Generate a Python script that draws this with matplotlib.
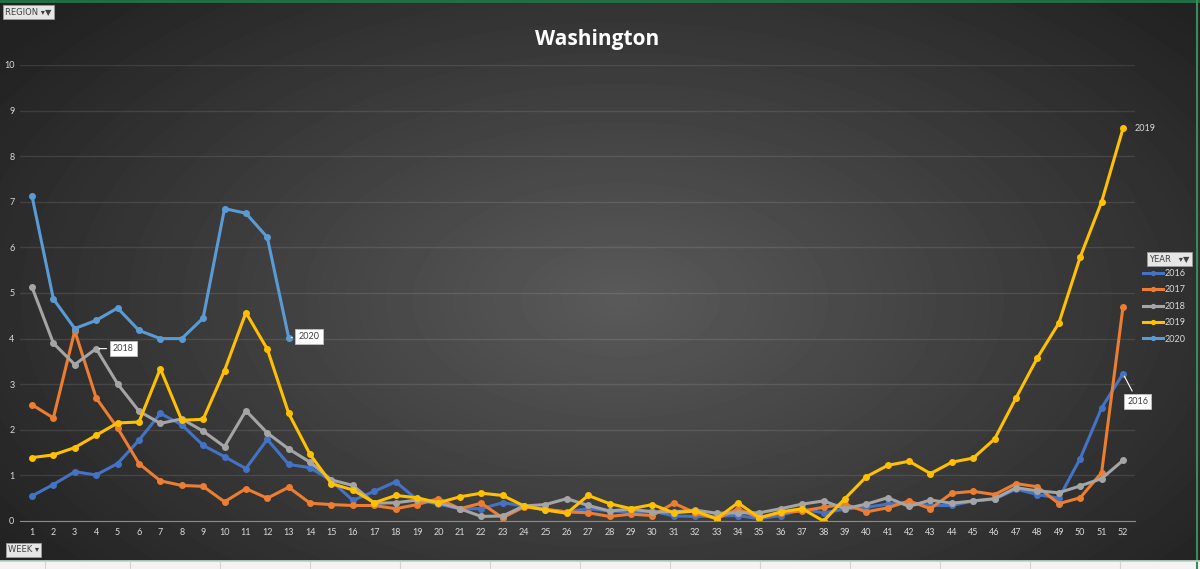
import numpy as np
import matplotlib
matplotlib.use("Agg")
import matplotlib.pyplot as plt

plt.rcParams['font.family'] = ['Lato', 'DejaVu Sans']

weeks = list(range(1, 53))
weeks_2020 = list(range(1, 14))

y2016 = [0.55, 0.80, 1.08, 1.01, 1.26, 1.77, 2.36, 2.11, 1.66, 1.41,
         1.15, 1.79, 1.24, 1.17, 0.88, 0.45, 0.65, 0.86, 0.47, 0.37,
         0.27, 0.27, 0.40, 0.33, 0.24, 0.20, 0.27, 0.22, 0.20, 0.22,
         0.11, 0.10, 0.11, 0.12, 0.05, 0.12, 0.26, 0.18, 0.26, 0.30,
         0.37, 0.40, 0.34, 0.34, 0.44, 0.48, 0.70, 0.58, 0.50, 1.37,
         2.48, 3.23]
y2017 = [2.55, 2.26, 4.17, 2.70, 2.04, 1.26, 0.88, 0.78, 0.76, 0.42,
         0.71, 0.50, 0.74, 0.39, 0.36, 0.34, 0.34, 0.27, 0.36, 0.49,
         0.27, 0.39, 0.07, 0.31, 0.26, 0.20, 0.18, 0.10, 0.15, 0.12,
         0.39, 0.18, 0.05, 0.26, 0.07, 0.18, 0.22, 0.30, 0.37, 0.20,
         0.29, 0.44, 0.27, 0.61, 0.65, 0.58, 0.82, 0.75, 0.38, 0.51,
         1.06, 4.70]
y2018 = [5.13, 3.90, 3.43, 3.78, 3.01, 2.41, 2.14, 2.24, 1.97, 1.63,
         2.42, 1.93, 1.58, 1.29, 0.90, 0.78, 0.39, 0.40, 0.46, 0.40,
         0.27, 0.10, 0.11, 0.33, 0.36, 0.49, 0.34, 0.22, 0.26, 0.20,
         0.20, 0.24, 0.17, 0.18, 0.18, 0.27, 0.37, 0.44, 0.27, 0.37,
         0.51, 0.32, 0.46, 0.39, 0.44, 0.49, 0.73, 0.66, 0.62, 0.77,
         0.93, 1.33]
y2019 = [1.39, 1.45, 1.61, 1.88, 2.15, 2.17, 3.34, 2.21, 2.23, 3.30,
         4.57, 3.77, 2.36, 1.46, 0.82, 0.68, 0.40, 0.56, 0.51, 0.40,
         0.53, 0.61, 0.56, 0.33, 0.24, 0.17, 0.56, 0.38, 0.27, 0.36,
         0.18, 0.22, 0.05, 0.40, 0.07, 0.20, 0.27, 0.00, 0.49, 0.97,
         1.22, 1.31, 1.04, 1.29, 1.38, 1.80, 2.70, 3.58, 4.34, 5.79,
         7.00, 8.61]
y2020 = [7.13, 4.87, 4.22, 4.40, 4.67, 4.18, 4.00, 4.00, 4.45, 6.85,
         6.75, 6.22, 4.02]

years = ['2016', '2017', '2018', '2019', '2020']
colors = ['#4472C4', '#ED7D31', '#A5A5A5', '#FFC000', '#5B9BD5']

W, H = 1200, 569
fig = plt.figure(figsize=(12, 5.69), dpi=100)

# dark radial background like the Excel chart style
bg = fig.add_axes([0, 0, 1, 1])
yy, xx = np.mgrid[0:H, 0:W]
d = np.sqrt(((xx - 620) / 760.0) ** 2 + ((yy - 300) / 430.0) ** 2)
val = (0x5a - (0x5a - 0x22) * np.clip(d, 0, 1)) / 255.0
bg.imshow(val, cmap='gray', vmin=0, vmax=1, aspect='auto', extent=[0, W, H, 0])
bg.set_xlim(0, W)
bg.set_ylim(H, 0)
bg.axis('off')
# excel window bits
bg.axhline(1, color='#217346', lw=2)
bg.axvline(1197, color='#3c8a5a', lw=1.5)
bg.fill_between([0, W], 561, 569, color='#f3f3f3')
bg.axhline(561, color='#b7d7c0', lw=1.2)
for gx in [45, 130, 220, 310, 400, 490, 580, 670, 760, 850, 940, 1030, 1120]:
    bg.plot([gx, gx], [562, 569], color='#d4d4d4', lw=0.8)

ax = fig.add_axes([20 / W, 1 - 521 / H, (1135 - 20) / W, (521 - 65) / H])
ax.patch.set_alpha(0)

series = [y2016, y2017, y2018, y2019]
for ys, c, lab in zip(series, colors[:4], years[:4]):
    ax.plot(weeks, ys, color=c, lw=2.2, marker='o', ms=4, label=lab)
ax.plot(weeks_2020, y2020, color=colors[4], lw=2.2, marker='o', ms=4, label=years[4])

ax.set_xlim(0.44, 52.56)
ax.set_ylim(0, 10)
ax.set_xticks(weeks)
ax.set_yticks(range(0, 11))
ax.tick_params(length=0, labelsize=6.5, colors='#d9d9d9')
ax.tick_params(axis='x', pad=5)
ax.tick_params(axis='y', pad=4)
for s in ['top', 'right', 'left']:
    ax.spines[s].set_visible(False)
ax.spines['bottom'].set_color('#8c8c8c')
ax.grid(axis='y', color='white', alpha=0.1, lw=1)
ax.set_axisbelow(True)

box = dict(boxstyle='square,pad=0.35', fc='white', ec='#bfbfbf', lw=0.6)
arrow = dict(arrowstyle='-', color='white', lw=0.8)
ax.annotate('2018', (4, y2018[3]), xytext=(12, 0), textcoords='offset points',
            fontsize=6.5, color='#404040', va='center', ha='left', bbox=box, arrowprops=arrow)
ax.annotate('2020', (13, y2020[12]), xytext=(7, 1), textcoords='offset points',
            fontsize=6.5, color='#404040', va='center', ha='left', bbox=box, arrowprops=arrow)
ax.annotate('2016', (52, y2016[51]), xytext=(3, -20), textcoords='offset points',
            fontsize=6.5, color='#404040', va='center', ha='left', bbox=box, arrowprops=arrow)
ax.annotate('2019', (52, y2019[51]), xytext=(8, 0), textcoords='offset points',
            fontsize=6.5, color='#d9d9d9', va='center', ha='left')

fig.text(597 / W, 1 - 40 / H, 'Washington', ha='center', va='center',
         fontsize=15, fontweight='bold', color='white', family=['Open Sans', 'DejaVu Sans'])

btn = dict(boxstyle='square,pad=0.25', fc='#e6e6e6', ec='#9a9a9a', lw=0.6)
fig.text(5 / W, 1 - 12 / H, 'REGION ▾▼', fontsize=6, color='#404040', va='center',
         ha='left', bbox=btn, family=['DejaVu Sans'])
fig.text(8 / W, 1 - 550 / H, 'WEEK ▾', fontsize=6, color='#404040', va='center',
         ha='left', bbox=btn, family=['DejaVu Sans'])
fig.text(1149 / W, 1 - 259 / H, 'YEAR   ▾▼', fontsize=6, color='#404040', va='center',
         ha='left', bbox=btn, family=['DejaVu Sans'])

ax.legend(loc='upper left', bbox_to_anchor=(1143 / W, 1 - 269 / H),
          bbox_transform=fig.transFigure, frameon=False, fontsize=6.5,
          labelcolor='#d9d9d9', handlelength=2.2, handletextpad=0.2,
          labelspacing=0.82, borderpad=0, borderaxespad=0, markerscale=0.7)

fig.savefig('out.png', dpi=100)
